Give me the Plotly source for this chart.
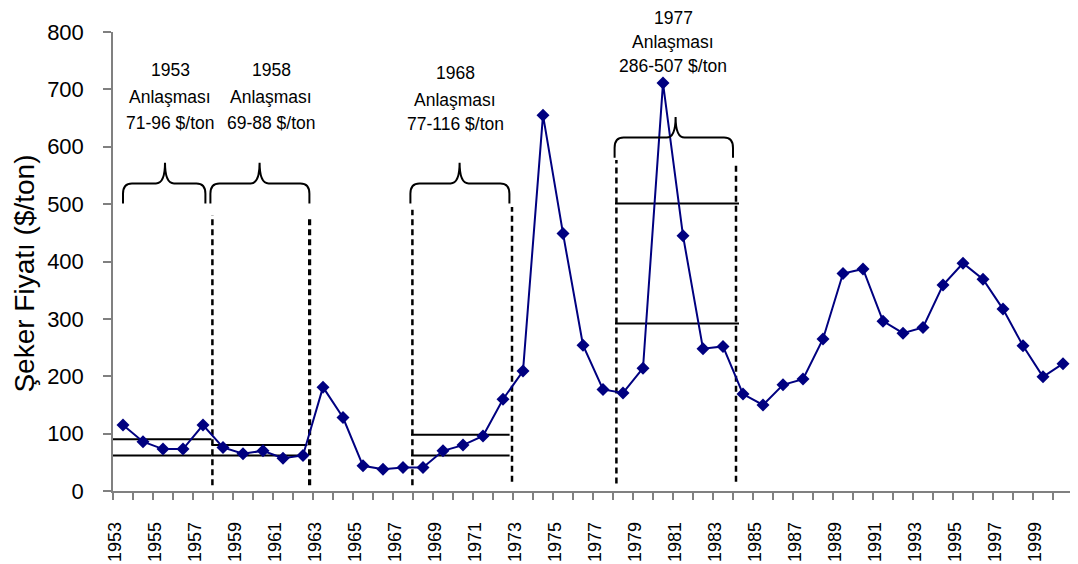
import plotly.graph_objects as go

# ---------------- data ----------------
years = list(range(1953, 2001))
prices = [115, 86, 73, 73, 115, 76, 65, 70, 57, 62,
          181, 128, 44, 38, 41, 41, 70, 80, 96, 160,
          209, 655, 449, 254, 177, 171, 214, 711, 445, 248,
          252, 169, 150, 185, 195, 265, 379, 387, 296, 275,
          285, 359, 397, 369, 317, 253, 199, 222]

label_years = list(range(1953, 2001, 2))

agreement_years = ["1953", "1958", "1968", "1977"]
agreement_ranges = ["71-96 $/ton", "69-88 $/ton", "77-116 $/ton", "286-507 $/ton"]
band_low = [62, 62, 62, 292]
band_high = [90, 80, 98, 501]

y_title = "Şeker Fiyatı ($/ton)"

# ---------------- layout helpers (positions in axis units) ----------------
YMAX = 800
band_x = [(1952.28, 1957.42), (1957.42, 1962.22), (1967.40, 1972.33), (1977.60, 1983.80)]
dashed = [(1957.47, 10, 481, 2.5), (1962.33, 10, 476, 3.2), (1967.47, 10, 490, 2.5),
          (1972.45, 16, 495, 2.5), (1977.67, 13, 577, 2.5), (1983.65, 16, 568, 2.5)]
braces = [(1953.0, 1957.12, 1955.1, 501, 536, 572),
          (1957.37, 1962.32, 1959.83, 501, 536, 572),
          (1967.37, 1972.32, 1969.83, 501, 536, 572),
          (1977.58, 1983.50, 1980.63, 581, 616, 652)]
text_pos = [(1955.37, [733, 686, 641]), (1960.4, [733, 686, 641]),
            (1969.6, [729, 682, 639]), (1980.5, [825, 783, 741])]

NAVY = "#000080"
AXC = "#808080"
FONT = "Liberation Sans, Arial, sans-serif"

fig = go.Figure()
fig.add_trace(go.Scatter(
    x=years, y=prices, mode="lines+markers",
    line=dict(color=NAVY, width=2),
    marker=dict(symbol="diamond", size=10, color=NAVY),
    showlegend=False, cliponaxis=False,
))

shapes = []
for (xa, xb), lo, hi in zip(band_x, band_low, band_high):
    for yv in (lo, hi):
        shapes.append(dict(type="line", xref="x", yref="y", x0=xa, x1=xb, y0=yv, y1=yv,
                           line=dict(color="black", width=2), layer="below"))

for x, y0, y1, w in dashed:
    shapes.append(dict(type="line", xref="x", yref="y", x0=x, x1=x, y0=y0, y1=y1,
                       line=dict(color="black", width=w, dash="6px,4px"), layer="below"))

rx, ry = 0.45, 18
for x0, x1, xc, yb, yh, yt in braces:
    path = (f"M {x0},{yb} L {x0},{yh-ry} Q {x0},{yh} {x0+rx},{yh} "
            f"L {xc-rx},{yh} Q {xc},{yh} {xc},{yt} "
            f"Q {xc},{yh} {xc+rx},{yh} L {x1-rx},{yh} "
            f"Q {x1},{yh} {x1},{yh-ry} L {x1},{yb}")
    shapes.append(dict(type="path", xref="x", yref="y", path=path,
                       line=dict(color="black", width=2)))

annotations = []
for (xc, ys), yr, rg in zip(text_pos, agreement_years, agreement_ranges):
    for t, yv in zip([yr, "Anlaşması", rg], ys):
        annotations.append(dict(x=xc, y=yv / YMAX, xref="x", yref="paper", text=t,
                                showarrow=False, borderpad=0,
                                font=dict(size=17.5, color="black", family=FONT),
                                xanchor="center", yanchor="middle"))

# y-axis title placed as rotated annotation
annotations.append(dict(x=-0.092, y=0.473, xref="paper", yref="paper", text=y_title,
                        textangle=-90, showarrow=False, xanchor="center", yanchor="middle",
                        font=dict(size=28, color="black", family=FONT)))

fig.update_layout(
    width=1070, height=556,
    margin=dict(l=105, r=5, t=24, b=73, autoexpand=False),
    paper_bgcolor="white", plot_bgcolor="white",
    font=dict(family=FONT, color="black"),
    shapes=shapes, annotations=annotations,
    showlegend=False,
)

fig.update_xaxes(
    range=[1952.5, 2000.5],
    tickmode="array",
    tickvals=[y - 0.37 for y in label_years],
    ticktext=[str(y) for y in label_years],
    tickangle=-90, ticks="outside", ticklen=22, tickcolor="rgba(0,0,0,0)",
    tickfont=dict(size=18, color="black"),
    showline=True, linecolor=AXC, linewidth=1.5,
    showgrid=False, zeroline=False,
    minor=dict(tickmode="linear", tick0=1952.5, dtick=1, ticks="outside",
               ticklen=7, tickcolor=AXC, tickwidth=1.5, showgrid=False),
)

fig.update_yaxes(
    range=[0, YMAX], tickmode="linear", tick0=0, dtick=100,
    ticks="outside", ticklen=8, tickcolor=AXC, tickwidth=1.5,
    ticklabelstandoff=15,
    tickfont=dict(size=22, color="black"),
    showline=True, linecolor=AXC, linewidth=1.5,
    showgrid=False, zeroline=False,
)

fig.write_html("out.html")
